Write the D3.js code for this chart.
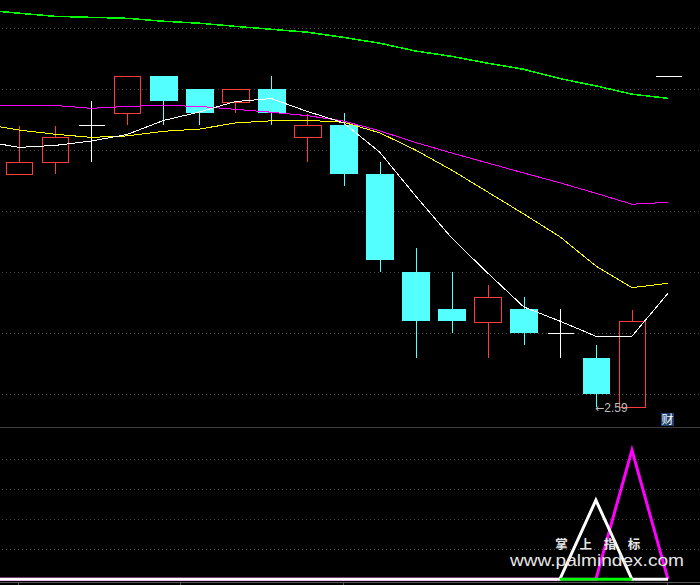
<!DOCTYPE html>
<html>
<head>
<meta charset="utf-8">
<script src="https://cdn.jsdelivr.net/npm/d3@7"></script>
<style>
html,body{margin:0;padding:0;background:#000;}
svg{display:block;}
</style>
</head>
<body>
<script>
// ---- data ----
const dayIdx = d3.range(19);            // candle slots 0..18
const maIdx  = d3.range(-1, 19);        // indicator points (-1 = off-screen left)

const open  = [3.544,3.593,3.744,3.794,3.947,3.893,3.841,3.893,3.695,3.746,3.545,3.143,2.992,2.940,2.992,2.893,2.791,2.590,3.945];
const high  = [3.742,3.742,3.844,3.947,3.947,3.893,3.892,3.947,3.790,3.795,3.593,3.242,3.143,3.090,3.041,2.992,2.844,2.988,3.945];
const low   = [3.544,3.546,3.595,3.746,3.746,3.746,3.796,3.746,3.595,3.497,3.145,2.792,2.895,2.792,2.845,2.792,2.590,2.590,3.945];
const close = [3.593,3.695,3.744,3.947,3.844,3.796,3.892,3.796,3.744,3.546,3.194,2.944,2.944,3.041,2.895,2.893,2.645,2.942,3.945];

const ma5  = [3.680,3.654,3.662,3.680,3.707,3.764,3.799,3.842,3.854,3.801,3.755,3.635,3.455,3.283,3.139,3.000,2.942,2.880,2.880,3.056];
const ma10 = [3.750,3.725,3.708,3.695,3.701,3.720,3.729,3.754,3.763,3.765,3.757,3.714,3.643,3.561,3.471,3.381,3.288,3.168,3.079,3.097];
const ma20 = [3.826,3.826,3.826,3.814,3.822,3.826,3.822,3.810,3.798,3.784,3.762,3.722,3.674,3.631,3.590,3.549,3.509,3.466,3.421,3.429];
const ma60 = [4.217,4.204,4.191,4.187,4.183,4.171,4.163,4.150,4.138,4.126,4.105,4.081,4.049,4.027,3.999,3.974,3.936,3.906,3.872,3.855];

const sigWhite   = [0,0,0,0,0,0,0,0,0,0,0,0,0,0,0,0,0,2.64,0,0];
const sigMagenta = [0,0,0,0,0,0,0,0,0,0,0,0,0,0,0,0,0,0,4.31,0];
const sigGreenIdx = [15,16,17];

const priceGrid = [2.643,2.893,3.143,3.393,3.643,3.893,4.143];
const lowGrid = [1,2,3,4];
const axisTicks = [-0.02, 4.47, 8.98, 17.97];
const lowPrice = 2.59;

// ---- layout ----
const W = 700, H = 585;
const svg = d3.select("body").append("svg").attr("width", W).attr("height", H)
  .style("background", "#000");
svg.append("rect").attr("width", W).attr("height", H).attr("fill", "#000");

const x = d3.scaleLinear().domain([0, 18]).range([19, 668]);
const y = d3.scaleLinear().domain([2.59, 3.59]).range([407, 163]);
const yb = d3.scaleLinear().domain([0, 5]).range([579.3, 429.3]);
const half = 13.3;

const defs = svg.append("defs");
defs.append("clipPath").attr("id", "mainClip").append("rect")
  .attr("x", 0).attr("y", 0).attr("width", W).attr("height", 427);
defs.append("clipPath").attr("id", "lowClip").append("rect")
  .attr("x", 0).attr("y", 428).attr("width", W).attr("height", 154);

// grid lines
const gridColor = "#4a4a4a";
svg.append("g").selectAll("line").data(priceGrid).join("line")
  .attr("x1", 2).attr("x2", W)
  .attr("y1", d => Math.round(y(d)) + 0.5).attr("y2", d => Math.round(y(d)) + 0.5)
  .attr("stroke", gridColor).attr("stroke-dasharray", "1,3");
svg.append("g").selectAll("line").data(lowGrid).join("line")
  .attr("x1", 2).attr("x2", W)
  .attr("y1", d => Math.round(yb(d)) + 0.5).attr("y2", d => Math.round(yb(d)) + 0.5)
  .attr("stroke", gridColor).attr("stroke-dasharray", "1,3");

// separator
svg.append("line").attr("x1", 0).attr("x2", W).attr("y1", 427.5).attr("y2", 427.5)
  .attr("stroke", "#3c3c3c");

const main = svg.append("g").attr("clip-path", "url(#mainClip)");

// candles
const RED = "#ff3c3c", CYAN = "#54ffff", WHITE = "#ffffff";
dayIdx.forEach(i => {
  const o = open[i], c = close[i], h = high[i], l = low[i];
  const cx = Math.round(x(i)) + 0.5;
  const x0 = Math.round(x(i) - half) + 0.5, x1 = Math.round(x(i) + half) + 0.5;
  const g = main.append("g").attr("shape-rendering", "crispEdges");
  if (c > o) {
    const top = y(c), bot = y(o);
    if (y(h) < top) g.append("line").attr("x1", cx).attr("x2", cx).attr("y1", y(h)).attr("y2", top).attr("stroke", RED);
    if (y(l) > bot) g.append("line").attr("x1", cx).attr("x2", cx).attr("y1", bot).attr("y2", y(l)).attr("stroke", RED);
    g.append("rect").attr("x", x0).attr("y", Math.round(top) + 0.5).attr("width", x1 - x0)
      .attr("height", Math.round(bot) - Math.round(top)).attr("fill", "none").attr("stroke", RED);
  } else if (c < o) {
    g.append("line").attr("x1", cx).attr("x2", cx).attr("y1", y(h)).attr("y2", y(l)).attr("stroke", CYAN);
    g.append("rect").attr("x", x0 - 0.5).attr("y", Math.round(y(o))).attr("width", x1 - x0 + 1)
      .attr("height", Math.round(y(c)) - Math.round(y(o))).attr("fill", CYAN);
  } else {
    if (h > l) g.append("line").attr("x1", cx).attr("x2", cx).attr("y1", y(h)).attr("y2", y(l)).attr("stroke", WHITE);
    g.append("line").attr("x1", x0).attr("x2", x1).attr("y1", Math.round(y(o)) + 0.5).attr("y2", Math.round(y(o)) + 0.5)
      .attr("stroke", WHITE).attr("stroke-width", 1.5);
  }
});

// moving averages (aliased 1px like the terminal)
const maLine = d3.line().x((d, k) => x(maIdx[k])).y(d => y(d));
[[ma60, "#00ff00", 1.5], [ma20, "#ff00ff", 1], [ma10, "#ffff00", 1], [ma5, "#ffffff", 1]].forEach(([arr, col, sw]) => {
  main.append("path").attr("d", maLine(arr)).attr("fill", "none")
    .attr("stroke", col).attr("stroke-width", sw).attr("shape-rendering", "crispEdges");
});

// low price label
const lbl = main.append("text").attr("x", 595).attr("y", y(lowPrice) + 4.5)
  .attr("font-size", 12).attr("fill", "#bdbdbd");
lbl.append("tspan").attr("font-family", "DejaVu Sans").attr("font-size", 11).text("←");
lbl.append("tspan").attr("font-family", "Liberation Sans, Arial, sans-serif").text(d3.format(".2f")(lowPrice));

// 财 marker
svg.append("rect").attr("x", 661).attr("y", 413).attr("width", 13).attr("height", 13).attr("fill", "#1b3f6e");
svg.append("text").attr("x", 667.5).attr("y", 424).attr("text-anchor", "middle")
  .attr("font-family", "Noto Sans CJK SC").attr("font-size", 12).attr("fill", "#ffffff").text("财");

// lower indicator panel
const low_ = svg.append("g").attr("clip-path", "url(#lowClip)");
const sigLine = d3.line().x((d, k) => x(maIdx[k])).y(d => yb(d));
low_.append("path").attr("d", sigLine(sigMagenta)).attr("fill", "none")
  .attr("stroke", "#ff00ff").attr("stroke-width", 3);
low_.append("path").attr("d", sigLine(sigWhite)).attr("fill", "none")
  .attr("stroke", "#ffffff").attr("stroke-width", 3);
low_.append("path").attr("d", d3.line().x(d => x(d)).y(() => yb(0))(sigGreenIdx)).attr("fill", "none")
  .attr("stroke", "#00ff00").attr("stroke-width", 3);

// watermark
const wm = svg.append("g").attr("fill", "#e6e6e6");
const chars = ["掌", "上", "指", "标"];
chars.forEach((ch, k) => {
  wm.append("text").attr("x", 561.5 + k * 24.2).attr("y", 548.5).attr("text-anchor", "middle")
    .attr("font-family", "Noto Sans CJK SC").attr("font-weight", "bold").attr("font-size", 12.5).text(ch);
});
wm.append("text").attr("x", 510).attr("y", 566).attr("font-family", "Liberation Sans, Arial, sans-serif")
  .attr("font-size", 17).attr("textLength", 174).attr("lengthAdjust", "spacingAndGlyphs").text("www.palmindex.com");

// bottom axis
svg.append("line").attr("x1", 0).attr("x2", W).attr("y1", 582.5).attr("y2", 582.5).attr("stroke", "#555");
svg.append("g").selectAll("line").data(axisTicks).join("line")
  .attr("x1", d => Math.round(x(d)) + 0.5).attr("x2", d => Math.round(x(d)) + 0.5)
  .attr("y1", 582.5).attr("y2", 585).attr("stroke", "#555");
</script>
</body>
</html>
